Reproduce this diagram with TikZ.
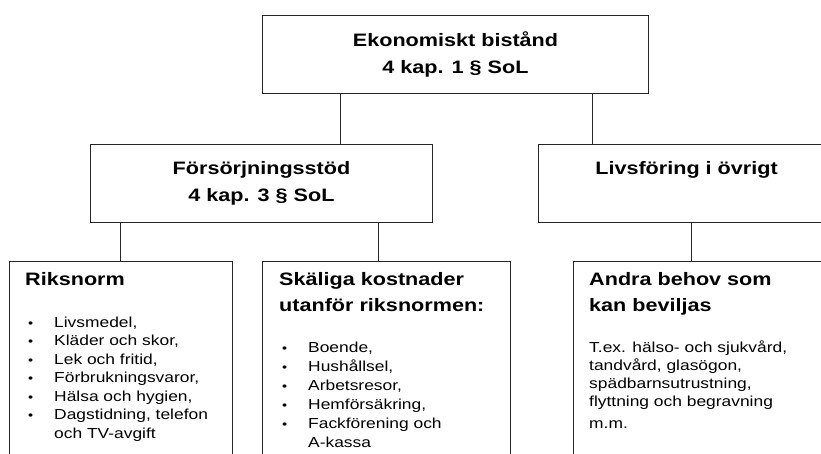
\documentclass[tikz,border=0pt]{standalone}
\usepackage{fontspec}
\setmainfont[FakeStretch=1.2]{Liberation Sans}

\newcommand{\punkt}[1]{\makebox[26pt][l]{\fontsize{12}{12}\selectfont\textbullet}#1}

\begin{document}
\begin{tikzpicture}[x=1pt, y=-1pt]

	\tikzstyle{ruta}=[rectangle, draw=black!85, line width=1pt, inner sep=0pt, anchor=north west]
	\tikzstyle{rubrik}=[font=\fontsize{18}{27}\selectfont\bfseries, align=center]
	\tikzstyle{titel}=[anchor=north west, inner sep=0pt, align=left, font=\fontsize{18}{26}\selectfont\bfseries]
	\tikzstyle{lista}=[anchor=north west, inner sep=0pt, align=left, font=\fontsize{14.5}{18.5}\selectfont]
	\tikzstyle{linje}=[draw=black!85, line width=1pt]

	\useasboundingbox (0, 0) rectangle (821, 453);
	\clip (0, 0) rectangle (821, 453);

	\coordinate (c_1) at (262, 15); % NIVA 1
	\coordinate (c_2) at (90, 144); % NIVA 2
	\coordinate (c_3) at (538, 144); % NIVA 2
	\coordinate (c_4) at (9, 261); % NIVA 3
	\coordinate (c_5) at (262, 261); % NIVA 3
	\coordinate (c_6) at (573, 261); % NIVA 3

	\coordinate (b_1) at (340, 0);
	\coordinate (b_2) at (592, 0);
	\coordinate (b_3) at (120, 0);
	\coordinate (b_4) at (378, 0);
	\coordinate (b_5) at (691, 0);

	\node[ruta, rubrik, minimum width=386pt, minimum height=78pt] (bistand) at (c_1) {Ekonomiskt bistånd\\4 kap. 1 § SoL}; % NIVA 1
	\node[ruta, rubrik, minimum width=342pt, minimum height=78pt] (forsorj) at (c_2) {Försörjningsstöd\\4 kap. 3 § SoL}; % NIVA 2
	\node[ruta, rubrik, minimum width=296pt, minimum height=78pt] (livs) at (c_3) {Livsföring i övrigt\\\phantom{4 kap. 3 § SoL}}; % NIVA 2
	\node[ruta, minimum width=223pt, minimum height=220pt] (riksnorm) at (c_4) {}; % NIVA 3
	\node[ruta, minimum width=248pt, minimum height=220pt] (skalig) at (c_5) {}; % NIVA 3
	\node[ruta, minimum width=260pt, minimum height=220pt] (andra) at (c_6) {}; % NIVA 3

	\node[titel] (riksnorm_t) at ([xshift=16pt, yshift=-6.3pt]riksnorm.north west) {\strut Riksnorm};
	\node[titel] (skalig_t) at ([xshift=17pt, yshift=-6.3pt]skalig.north west) {\strut Skäliga kostnader\\utanför riksnormen:};
	\node[titel] (andra_t) at ([xshift=16pt, yshift=-6.3pt]andra.north west) {\strut Andra behov som\\kan beviljas};

	\node[lista] (riksnorm_l) at ([xshift=19pt, yshift=-53pt]riksnorm.north west) {\strut\punkt{Livsmedel,}\\\punkt{Kläder och skor,}\\\punkt{Lek och fritid,}\\\punkt{Förbrukningsvaror,}\\\punkt{Hälsa och hygien,}\\\punkt{Dagstidning, telefon}\\\hspace*{26pt}och TV-avgift};
	\node[lista, font=\fontsize{14.5}{19}\selectfont] (skalig_l) at ([xshift=20pt, yshift=-77.7pt]skalig.north west) {\strut\punkt{Boende,}\\\punkt{Hushållsel,}\\\punkt{Arbetsresor,}\\\punkt{Hemförsäkring,}\\\punkt{Fackförening och}\\\hspace*{26pt}A-kassa};
	\node[lista, font=\fontsize{14.5}{18}\selectfont] (andra_l) at ([xshift=16pt, yshift=-78.4pt]andra.north west) {\strut T.ex. hälso- och sjukvård,\\tandvård, glasögon,\\spädbarnsutrustning,\\flyttning och begravning\\[4pt]m.m.};

	\draw[linje] (bistand.south -| b_1) -- (forsorj.north -| b_1);
	\draw[linje] (bistand.south -| b_2) -- (livs.north -| b_2);
	\draw[linje] (forsorj.south -| b_3) -- (riksnorm.north -| b_3);
	\draw[linje] (forsorj.south -| b_4) -- (skalig.north -| b_4);
	\draw[linje] (livs.south -| b_5) -- (andra.north -| b_5);
\end{tikzpicture}
\end{document}
